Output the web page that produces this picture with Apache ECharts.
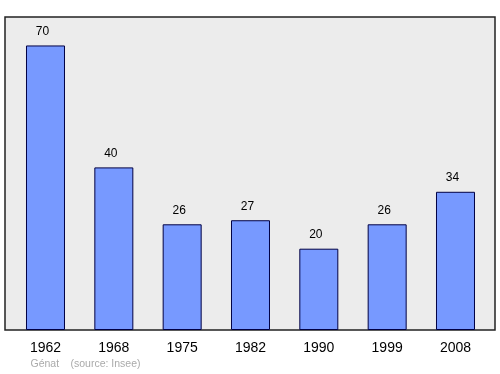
<!DOCTYPE html>
<html>
<head>
<meta charset="utf-8">
<script src="https://cdn.jsdelivr.net/npm/echarts@6/dist/echarts.min.js"></script>
<style>html,body{margin:0;padding:0;background:#fff}#c{width:500px;height:374px}</style>
</head>
<body>
<div id="c"></div>
<script>
const years = ['1962', '1968', '1975', '1982', '1990', '1999', '2008'];
const population = [70, 40, 26, 27, 20, 26, 34];
const footerName = 'Génat';
const footerSource = '(source: Insee)';

const chart = echarts.init(document.getElementById('c'), null, {renderer: 'canvas'});
const ff = 'Liberation Sans, Arial, sans-serif';
chart.setOption({
  animation: false,
  textStyle: {fontFamily: ff},
  graphic: [
    {type: 'rect', z: -1, shape: {x: 5, y: 17, width: 490, height: 313},
     style: {fill: '#ececec', stroke: '#222', lineWidth: 1.5}},
    {type: 'text', x: 30.5, y: 358.5,
     style: {text: footerName, fill: '#aaaaaa', font: '10.5px ' + ff, verticalAlign: 'top'}},
    {type: 'text', x: 70.5, y: 358.5,
     style: {text: footerSource, fill: '#aaaaaa', font: '10.5px ' + ff, verticalAlign: 'top'}}
  ],
  grid: {left: 11.33, width: 478.33, top: 17, height: 313},
  xAxis: {
    type: 'category', data: years,
    axisLine: {show: false}, axisTick: {show: false},
    axisLabel: {color: '#000', fontSize: 14, margin: 11}
  },
  yAxis: {type: 'value', min: 0, max: 77, show: false, splitLine: {show: false}},
  series: [{
    type: 'bar', data: population, barWidth: 39,
    itemStyle: {color: '#7799ff', borderColor: '#000044', borderWidth: 1},
    label: {show: true, position: 'top', distance: 8, offset: [-3, 0], color: '#000', fontSize: 12}
  }]
});
</script>
</body>
</html>
